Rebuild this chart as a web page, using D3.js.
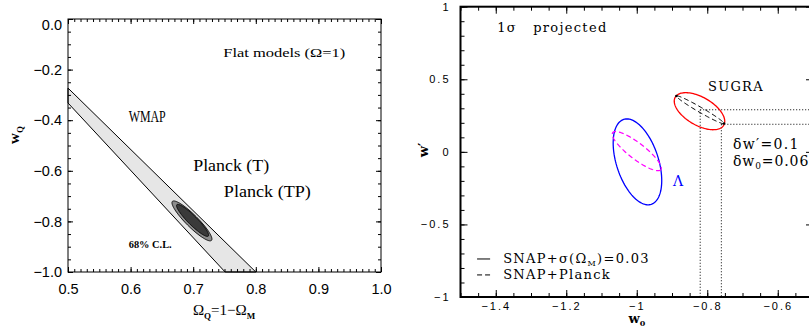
<!DOCTYPE html>
<html>
<head>
<meta charset="utf-8">
<script src="https://cdnjs.cloudflare.com/ajax/libs/d3/7.8.5/d3.min.js"></script>
<style>
  body { margin: 0; background: #fff; }
  svg { display: block; }
  .tick text { font-family: "Liberation Sans", Arial, sans-serif; fill: #000; }
</style>
</head>
<body>
<svg width="809" height="329"></svg>
<script>

// ---- left panel : w_Q against Omega_Q ----
var omegaTicks = [0.5, 0.6, 0.7, 0.8, 0.9, 1.0];
var wqTicks = [0.0, -0.2, -0.4, -0.6, -0.8, -1.0];
var wmapUpper = [[0.5, -0.273], [0.8, -1.0]];
var wmapLower = [[0.5, -0.332], [0.751, -1.0]];
// ellipses: centre, semi-major vector, semi-minor vector (data units)
var planckTCentre = [0.698, -0.798], planckTMajor = [0.0312, -0.0771], planckTMinor = [0.0068, 0.0168];
var planckTPCentre = [0.699, -0.796], planckTPMajor = [0.0251, -0.0621], planckTPMinor = [0.0051, 0.0126];

// ---- right panel : w' against w0 ----
var w0Ticks = [-1.4, -1.2, -1, -0.8, -0.6];
var wpTicks = [1, 0.5, 0, -0.5, -1];
var lambdaSnapCentre = [-0.998, -0.069], lambdaSnapMajor = [0.0391, -0.2924], lambdaSnapMinor = [-0.0567, -0.0448];
var lambdaPlanckCentre = [-1.0, 0.005], lambdaPlanckMajor = [0.0681, -0.1276], lambdaPlanckMinor = [-0.0138, -0.0437];
var sugraSnapCentre = [-0.822, 0.28], sugraSnapMajor = [0.0688, -0.0965], sugraSnapMinor = [-0.0199, -0.0835];
var sugraPlanckCentre = [-0.82, 0.29], sugraPlanckMajor = [0.0675, -0.0951], sugraPlanckMinor = [-0.0035, -0.015];
var guideW0 = [-0.82, -0.76];
var guideWp = [0.29, 0.19];

var svg = d3.select('svg');

function ellipsePts(c, a, b) {
	return d3.range(0, 361, 3).map(function(t) {
		var r = t * Math.PI / 180;
		return [c[0] + a[0] * Math.cos(r) + b[0] * Math.sin(r),
		        c[1] + a[1] * Math.cos(r) + b[1] * Math.sin(r)];
	});
}

// inward ticks on all four sides, minor ticks without labels
function frame(g, x, y, xMaj, xMin, yMaj, yMin, lenMaj, lenMin, xFmt, yFmt, xPad, yPad) {
	var x0 = x.range()[0], x1 = x.range()[1], y0 = y.range()[0], y1 = y.range()[1];
	function clean(s) { s.select('.domain').remove(); }
	g.append('g').attr('transform', 'translate(0,' + y0 + ')')
		.call(d3.axisBottom(x).tickValues(xMaj).tickSize(-lenMaj).tickPadding(xPad).tickFormat(xFmt)).call(clean);
	g.append('g').attr('transform', 'translate(0,' + y0 + ')')
		.call(d3.axisBottom(x).tickValues(xMin).tickSize(-lenMin).tickFormat('')).call(clean);
	g.append('g').attr('transform', 'translate(0,' + y1 + ')')
		.call(d3.axisTop(x).tickValues(xMaj).tickSize(-lenMaj).tickFormat('')).call(clean);
	g.append('g').attr('transform', 'translate(0,' + y1 + ')')
		.call(d3.axisTop(x).tickValues(xMin).tickSize(-lenMin).tickFormat('')).call(clean);
	g.append('g').attr('transform', 'translate(' + x0 + ',0)').attr('class', 'yl')
		.call(d3.axisLeft(y).tickValues(yMaj).tickSize(-lenMaj).tickPadding(yPad).tickFormat(yFmt)).call(clean);
	g.append('g').attr('transform', 'translate(' + x0 + ',0)')
		.call(d3.axisLeft(y).tickValues(yMin).tickSize(-lenMin).tickFormat('')).call(clean);
	g.append('g').attr('transform', 'translate(' + x1 + ',0)')
		.call(d3.axisRight(y).tickValues(yMaj).tickSize(-lenMaj).tickFormat('')).call(clean);
	g.append('g').attr('transform', 'translate(' + x1 + ',0)')
		.call(d3.axisRight(y).tickValues(yMin).tickSize(-lenMin).tickFormat('')).call(clean);
	g.selectAll('.tick line').attr('stroke', '#000');
}

// ================= left panel =================
var xL = d3.scaleLinear().domain([0.5, 1.0]).range([68, 381]);
var yL = d3.scaleLinear().domain([-1.0, 0.0]).range([272, 19]);
var lineL = d3.line().x(function(d) { return xL(d[0]); }).y(function(d) { return yL(d[1]); });
var gl = svg.append('g');

gl.append('path')
	.attr('d', lineL(wmapUpper.concat(wmapLower.slice().reverse())) + 'Z')
	.attr('fill', '#e6e6e6').attr('stroke', '#000').attr('stroke-width', 1);

gl.append('path')
	.attr('d', lineL(ellipsePts(planckTCentre, planckTMajor, planckTMinor)) + 'Z')
	.attr('fill', '#8c8c8c').attr('stroke', '#000').attr('stroke-width', 0.9);
gl.append('path')
	.attr('d', lineL(ellipsePts(planckTPCentre, planckTPMajor, planckTPMinor)) + 'Z')
	.attr('fill', '#3a3a3a').attr('stroke', '#000').attr('stroke-width', 0.9);

frame(gl, xL, yL, omegaTicks, d3.range(50, 101).map(function(d) { return d / 100; }),
	wqTicks, d3.range(-20, 1).map(function(d) { return d * 0.05; }),
	5, 3, d3.format('.1f'), d3.format('.1f'), 12, 6);
gl.selectAll('.tick text').attr('font-size', '14.5px');
gl.select('.yl').selectAll('.tick text').filter(function(d) { return d === 0; }).attr('dy', '0.72em');

gl.append('rect').attr('x', 68).attr('y', 19).attr('width', 313).attr('height', 253)
	.attr('fill', 'none').attr('stroke', '#000').attr('stroke-width', 1);

var serifL = '"Liberation Serif", "Times New Roman", serif';
function labelL(txt, x, y, size, len, weight) {
	return gl.append('text').attr('x', xL(x)).attr('y', yL(y)).text(txt)
		.attr('font-family', serifL).attr('font-size', size + 'px')
		.attr('font-weight', weight || 'normal')
		.attr('textLength', len).attr('lengthAdjust', 'spacingAndGlyphs');
}
labelL('Flat models (\u03a9=1)', 0.748, -0.150, 13.5, 122);
labelL('WMAP', 0.597, -0.407, 16, 37);
labelL('Planck (T)', 0.70, -0.600, 16, 76);
labelL('Planck (TP)', 0.749, -0.704, 16, 87);
labelL('68% C.L.', 0.597, -0.905, 10, 43, 'bold');

var xt = gl.append('text').attr('x', 224).attr('y', 315).attr('text-anchor', 'middle')
	.attr('font-family', serifL).attr('font-size', '15px');
xt.append('tspan').text('\u03a9');
xt.append('tspan').text('Q').attr('font-size', '9px').attr('dy', 4).attr('font-weight', 'bold');
xt.append('tspan').text('=1\u2212\u03a9').attr('dy', -4);
xt.append('tspan').text('M').attr('font-size', '9px').attr('dy', 4).attr('font-weight', 'bold');

var yt = gl.append('text').attr('transform', 'translate(19,135) rotate(-90)').attr('text-anchor', 'middle')
	.attr('font-family', serifL).attr('font-size', '15px').attr('font-weight', 'bold');
yt.append('tspan').text('w');
yt.append('tspan').text('Q').attr('font-size', '9px').attr('dy', 4);

// ================= right panel =================
var xR = d3.scaleLinear().domain([-1.5, -0.5]).range([460.5, 813]);
var yR = d3.scaleLinear().domain([-1, 1]).range([297, 6.7]);
var lineR = d3.line().x(function(d) { return xR(d[0]); }).y(function(d) { return yR(d[1]); });
var gr = svg.append('g');

// dotted guides for the SUGRA offsets
guideW0.forEach(function(w0, i) {
	gr.append('path').attr('d', lineR([[w0, guideWp[i]], [-0.5, guideWp[i]]]))
		.attr('stroke', '#000').attr('stroke-width', 1).attr('stroke-dasharray', '1,2').attr('fill', 'none');
	gr.append('path').attr('d', lineR([[w0, guideWp[i]], [w0, -1]]))
		.attr('stroke', '#000').attr('stroke-width', 1).attr('stroke-dasharray', '1,2').attr('fill', 'none');
});

gr.append('path').attr('d', lineR(ellipsePts(lambdaSnapCentre, lambdaSnapMajor, lambdaSnapMinor)) + 'Z')
	.attr('fill', 'none').attr('stroke', '#0000ff').attr('stroke-width', 1.3);
gr.append('path').attr('d', lineR(ellipsePts(lambdaPlanckCentre, lambdaPlanckMajor, lambdaPlanckMinor)) + 'Z')
	.attr('fill', 'none').attr('stroke', '#ff00ff').attr('stroke-width', 1.2).attr('stroke-dasharray', '5,3');
gr.append('path').attr('d', lineR(ellipsePts(sugraSnapCentre, sugraSnapMajor, sugraSnapMinor)) + 'Z')
	.attr('fill', 'none').attr('stroke', '#ff0000').attr('stroke-width', 1.3);
gr.append('path').attr('d', lineR(ellipsePts(sugraPlanckCentre, sugraPlanckMajor, sugraPlanckMinor)) + 'Z')
	.attr('fill', 'none').attr('stroke', '#000').attr('stroke-width', 1).attr('stroke-dasharray', '5,3');
[1, -1].forEach(function(s) {
	gr.append('circle')
		.attr('cx', xR(sugraPlanckCentre[0] + s * sugraPlanckMajor[0]))
		.attr('cy', yR(sugraPlanckCentre[1] + s * sugraPlanckMajor[1]))
		.attr('r', 1.3).attr('fill', '#000');
});

frame(gr, xR, yR, w0Ticks, d3.range(-30, -9).map(function(d) { return d * 0.05; }),
	wpTicks, d3.range(-10, 11).map(function(d) { return d / 10; }),
	7, 4, d3.format(''), d3.format(''), 5, 10);
gr.selectAll('.tick text').attr('font-size', '11px').attr('letter-spacing', '2px');

gr.append('rect').attr('x', 460.5).attr('y', 6.7).attr('width', 352.5).attr('height', 290.3)
	.attr('fill', 'none').attr('stroke', '#000').attr('stroke-width', 2);

var serifR = '"DejaVu Serif", serif';
function labelR(x, y, size) {
	return gr.append('text').attr('x', xR(x)).attr('y', yR(y))
		.attr('font-family', serifR).attr('font-size', size + 'px').attr('letter-spacing', '1.3px');
}
labelR(-1.396, 0.828, 13).text('1\u03c3\u00a0\u00a0\u00a0projected');
labelR(-0.798, 0.4216, 13).text('SUGRA');
labelR(-0.897, -0.235, 14).text('\u039b').attr('fill', '#0000ff').attr('letter-spacing', 0);
labelR(-0.727, 0.02, 14).text('\u03b4w\u2032=0.1');
var dw = labelR(-0.727, -0.097, 14).attr('letter-spacing', '0.9px');
dw.append('tspan').text('\u03b4w');
dw.append('tspan').text('0').attr('font-size', '9px').attr('dy', 3);
dw.append('tspan').text('=0.06').attr('dy', -3);

// legend
gr.append('path').attr('d', lineR([[-1.453, -0.738], [-1.416, -0.738]])).attr('stroke', '#000').attr('stroke-width', 1);
gr.append('path').attr('d', lineR([[-1.453, -0.848], [-1.416, -0.848]])).attr('stroke', '#000').attr('stroke-width', 1)
	.attr('stroke-dasharray', '5,3');
var l1 = labelR(-1.379, -0.765, 13);
l1.append('tspan').text('SNAP+\u03c3(\u03a9');
l1.append('tspan').text('M').attr('font-size', '8px').attr('dy', 3);
l1.append('tspan').text(')=0.03').attr('dy', -3);
labelR(-1.379, -0.876, 13).text('SNAP+Planck');

var xr = gr.append('text').attr('x', 637).attr('y', 323).attr('text-anchor', 'middle')
	.attr('font-family', serifR).attr('font-size', '13px').attr('font-weight', 'bold');
xr.append('tspan').text('w');
xr.append('tspan').text('0').attr('font-size', '8px').attr('dy', 3);

gr.append('text').attr('transform', 'translate(428,150) rotate(-90)').attr('text-anchor', 'middle')
	.attr('font-family', serifR).attr('font-size', '13px').attr('font-weight', 'bold').text('w\u2032');

</script>
</body>
</html>
